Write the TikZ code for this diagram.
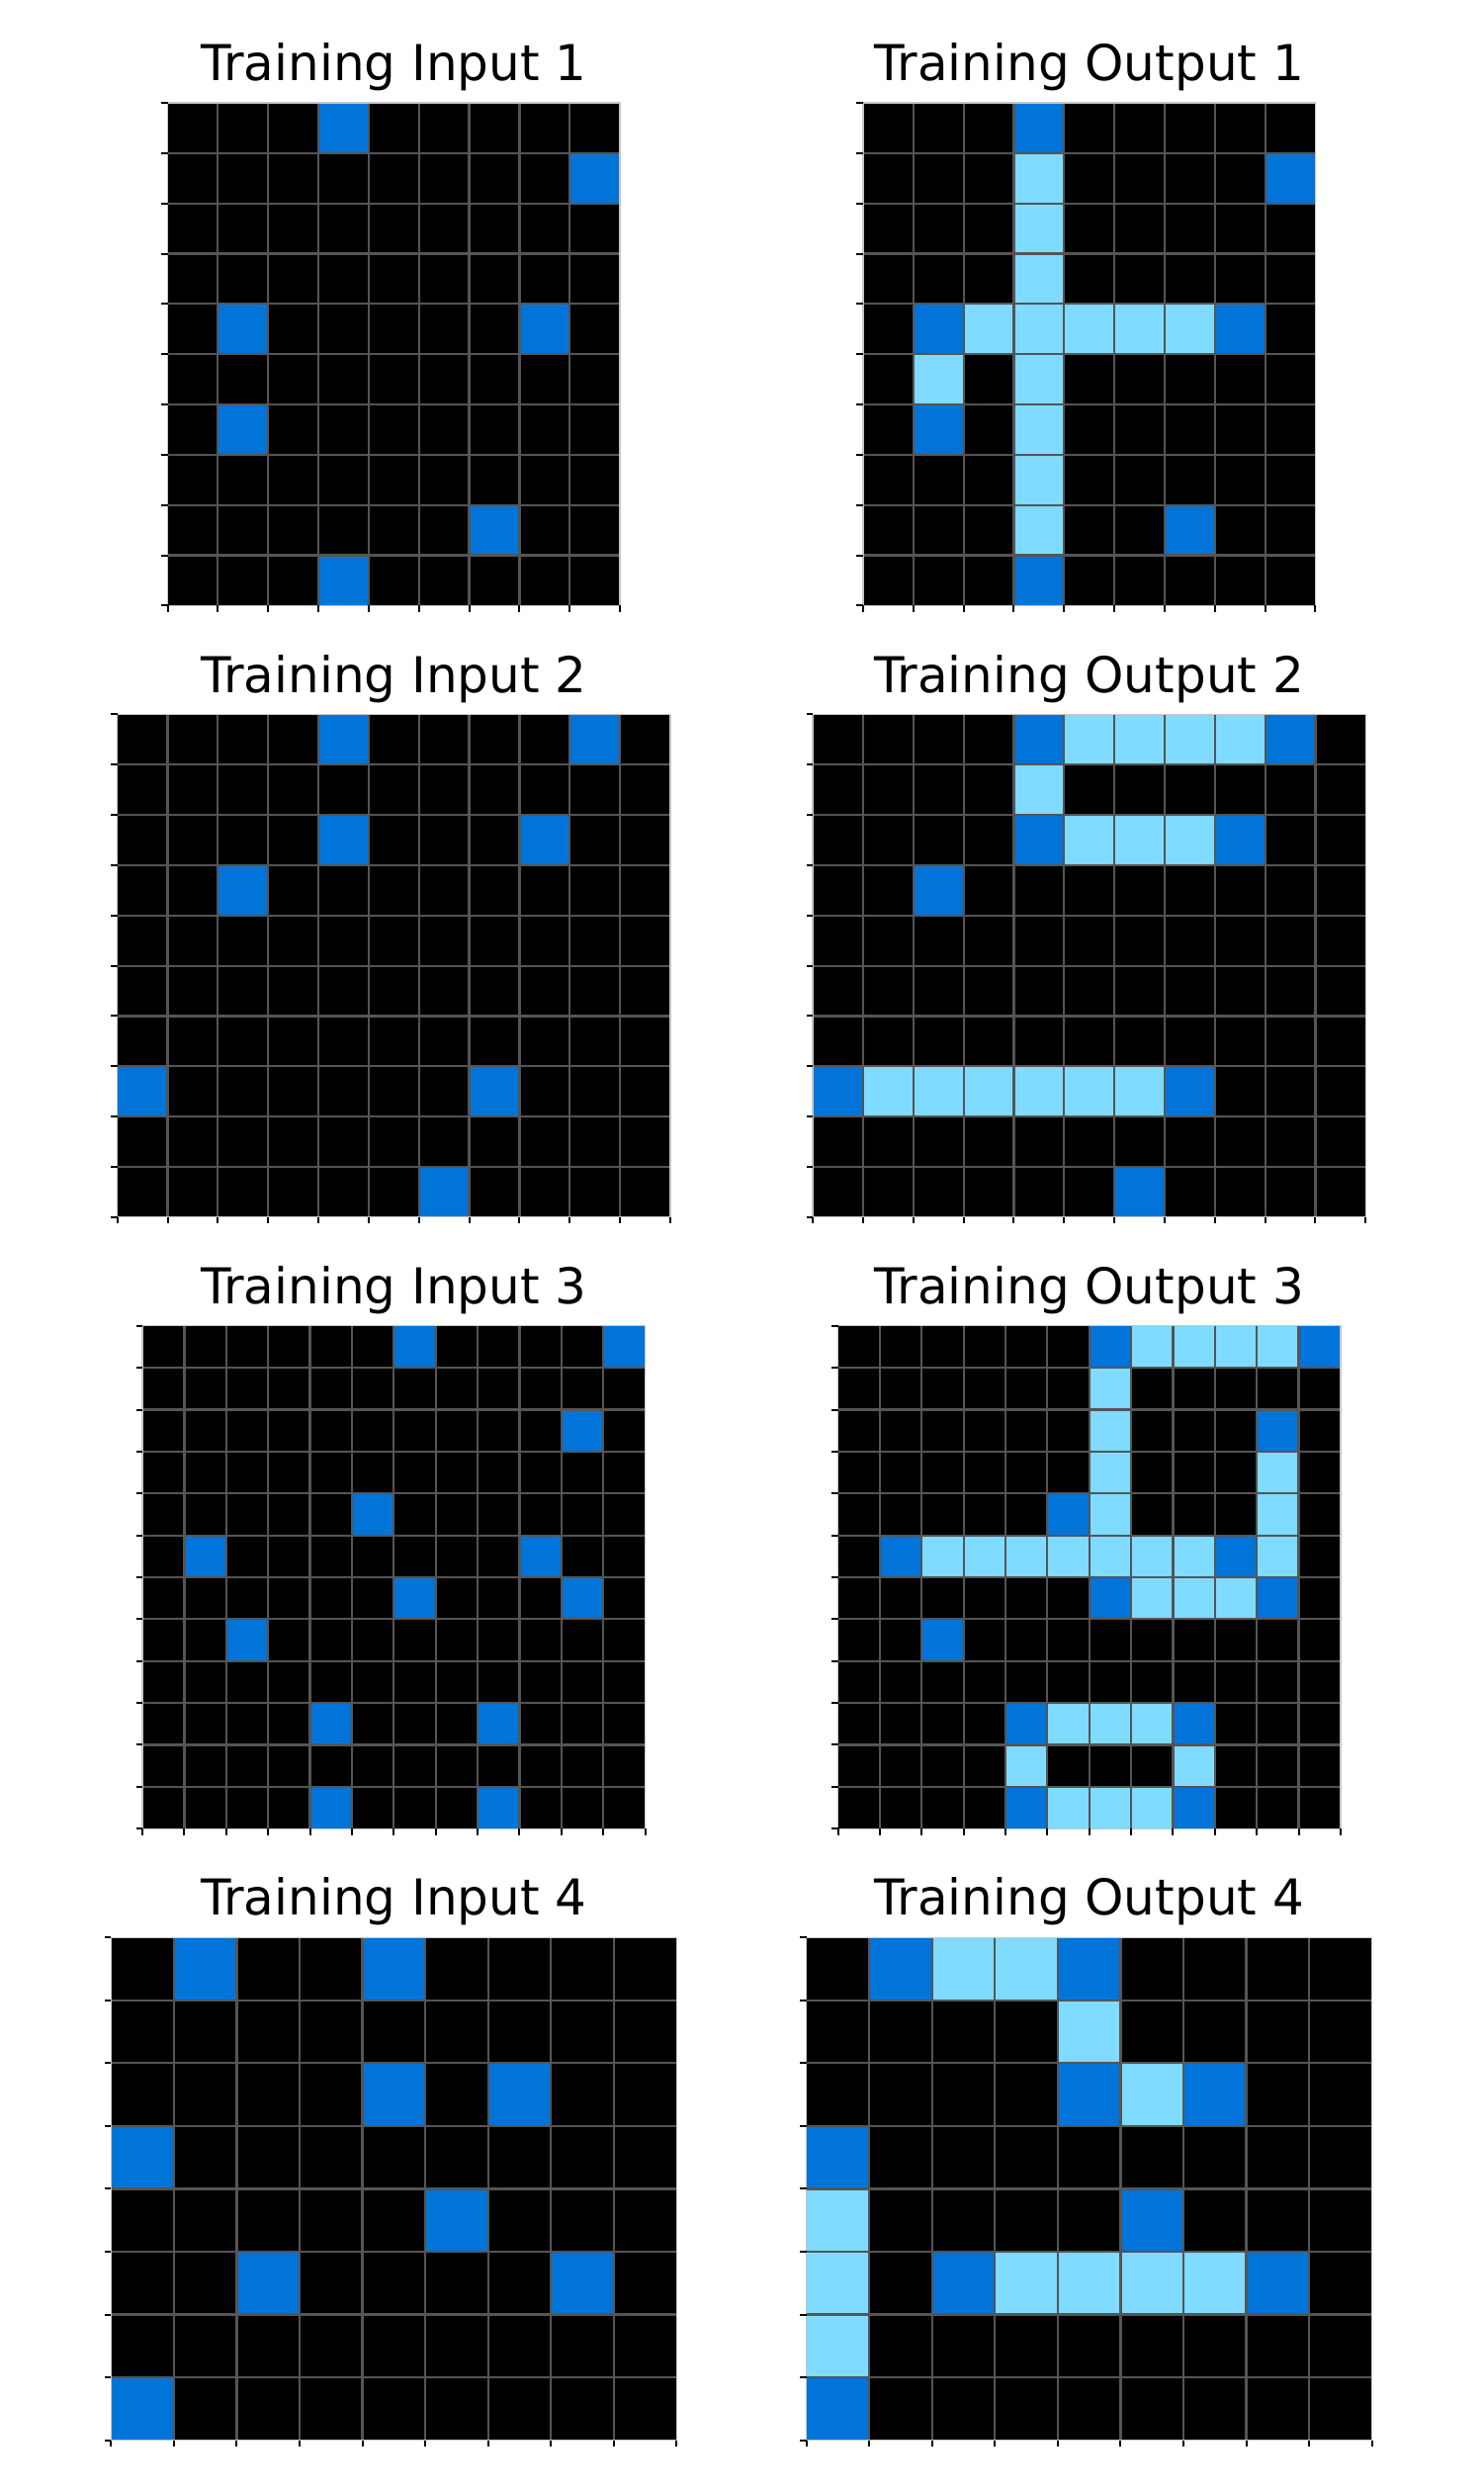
\documentclass[tikz,border=0pt]{standalone}
\usepackage{fontspec}
\newfontfamily\dejavu{DejaVu Sans}
\definecolor{arcblue}{HTML}{0074D9}
\definecolor{arclight}{HTML}{7FDBFF}
\definecolor{gridgray}{HTML}{555555}
\tikzset{
  gridline/.style={draw=gridgray, line width=2.2pt},
  tickmark/.style={draw=black, line width=2pt},
  frameline/.style={draw=gray!45, line width=1.2pt},
  gridtitle/.style={font=\dejavu\fontsize{50}{60}\selectfont, anchor=base, inner sep=0pt},
}
% start a grid: #1 centre x, #2 top y, #3 columns, #4 rows, #5 cell size
\newcommand{\arcgridstart}[5]{%
  \pgfmathsetmacro{\arcS}{#5}%
  \pgfmathsetmacro{\arcT}{#2}%
  \pgfmathsetmacro{\arcW}{#3*#5}%
  \pgfmathsetmacro{\arcH}{#4*#5}%
  \pgfmathsetmacro{\arcL}{#1-\arcW/2}%
  \pgfmathsetmacro{\arcB}{#2+\arcH}%
  \pgfmathtruncatemacro{\arcC}{#3}%
  \pgfmathtruncatemacro{\arcR}{#4}%
  \pgfmathtruncatemacro{\arcCm}{#3-1}%
  \pgfmathtruncatemacro{\arcRm}{#4-1}%
  \fill[black] (\arcL,\arcT) rectangle ({\arcL+\arcW},\arcB);
}
% colour cells: #1 colour, #2 list of row/col
\newcommand{\arccells}[2]{%
  \foreach \r/\c in {#2} {\fill[#1] ({\arcL+\c*\arcS},{\arcT+\r*\arcS}) rectangle ++(\arcS,\arcS);}
}
% finish grid: lines, frame, ticks
\newcommand{\arcgridend}{%
  \foreach \i in {1,...,\arcCm} {\draw[gridline] ({\arcL+\i*\arcS},\arcT) -- ({\arcL+\i*\arcS},\arcB);}
  \foreach \i in {1,...,\arcRm} {\draw[gridline] (\arcL,{\arcT+\i*\arcS}) -- ({\arcL+\arcW},{\arcT+\i*\arcS});}
  \draw[frameline] (\arcL,\arcT) rectangle ({\arcL+\arcW},\arcB);
  \foreach \i in {0,...,\arcR} {\draw[tickmark] (\arcL,{\arcT+\i*\arcS}) -- ++(-6.5,0);}
  \foreach \i in {0,...,\arcC} {\draw[tickmark] ({\arcL+\i*\arcS},\arcB) -- ++(0,6.5);}
}
\begin{document}
\begin{tikzpicture}[x=1pt,y=-1pt]
\fill[white] (0,0) rectangle (1500,2519);
\useasboundingbox (0,0) rectangle (1500,2519);

% ---------- row 1 ----------
\node[gridtitle] (t1) at (398.3,81.7) {Training Input 1};
\node[gridtitle] (t2) at (1101.7,81.7) {Training Output 1};
\arcgridstart{398.3}{104}{9}{10}{50.84}
\arccells{arcblue}{0/3,1/8,4/1,4/7,6/1,8/6,9/3}
\arcgridend
\arcgridstart{1101.7}{104}{9}{10}{50.84}
\arccells{arcblue}{0/3,1/8,4/1,4/7,6/1,8/6,9/3}
\arccells{arclight}{1/3,2/3,3/3,4/2,4/3,4/4,4/5,4/6,5/1,5/3,6/3,7/3,8/3}
\arcgridend

% ---------- row 2 ----------
\node[gridtitle] (t3) at (398.3,700.1) {Training Input 2};
\node[gridtitle] (t4) at (1101.7,700.1) {Training Output 2};
\arcgridstart{398.3}{722.4}{11}{10}{50.84}
\arccells{arcblue}{0/4,0/9,2/4,2/8,3/2,7/0,7/7,9/6}
\arcgridend
\arcgridstart{1101.7}{722.4}{11}{10}{50.84}
\arccells{arcblue}{0/4,0/9,2/4,2/8,3/2,7/0,7/7,9/6}
\arccells{arclight}{0/5,0/6,0/7,0/8,1/4,2/5,2/6,2/7,7/1,7/2,7/3,7/4,7/5,7/6}
\arcgridend

% ---------- row 3 ----------
\node[gridtitle] (t5) at (398.3,1318.5) {Training Input 3};
\node[gridtitle] (t6) at (1101.7,1318.5) {Training Output 3};
\arcgridstart{398.3}{1340.8}{12}{12}{42.367}
\arccells{arcblue}{0/6,0/11,2/10,4/5,5/1,5/9,6/6,6/10,7/2,9/4,9/8,11/4,11/8}
\arcgridend
\arcgridstart{1101.7}{1340.8}{12}{12}{42.367}
\arccells{arcblue}{0/6,0/11,2/10,4/5,5/1,5/9,6/6,6/10,7/2,9/4,9/8,11/4,11/8}
\arccells{arclight}{0/7,0/8,0/9,0/10,1/6,2/6,3/6,3/10,4/6,4/10,5/2,5/3,5/4,5/5,5/6,5/7,5/8,5/10,6/7,6/8,6/9,9/5,9/6,9/7,10/4,10/8,11/5,11/6,11/7}
\arcgridend

% ---------- row 4 ----------
\node[gridtitle] (t7) at (398.3,1936.9) {Training Input 4};
\node[gridtitle] (t8) at (1101.7,1936.9) {Training Output 4};
\arcgridstart{398.3}{1959.2}{9}{8}{63.55}
\arccells{arcblue}{0/1,0/4,2/4,2/6,3/0,4/5,5/2,5/7,7/0}
\arcgridend
\arcgridstart{1101.7}{1959.2}{9}{8}{63.55}
\arccells{arcblue}{0/1,0/4,2/4,2/6,3/0,4/5,5/2,5/7,7/0}
\arccells{arclight}{0/2,0/3,1/4,2/5,4/0,5/0,5/3,5/4,5/5,5/6,6/0}
\arcgridend
\end{tikzpicture}
\end{document}
